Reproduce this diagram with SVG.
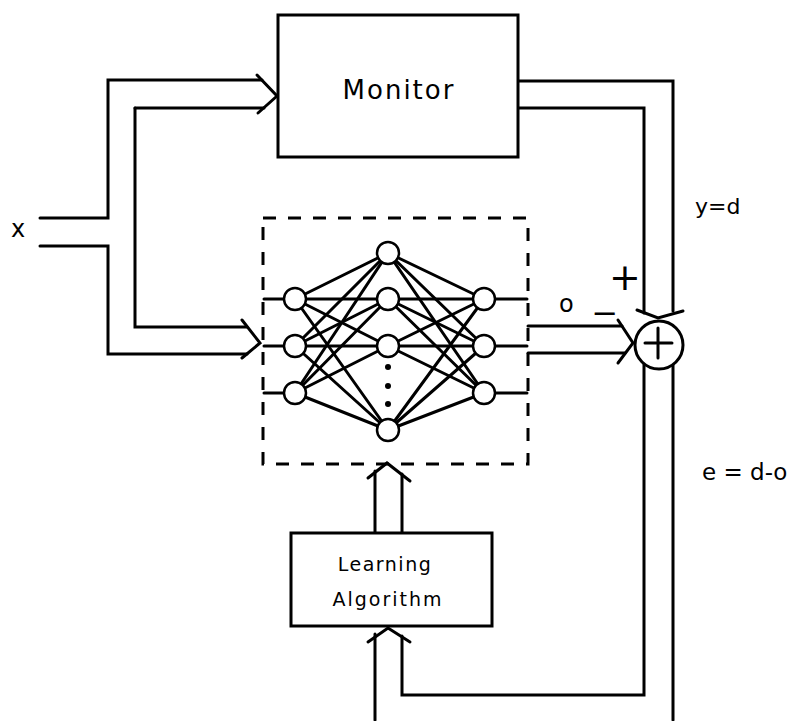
<svg xmlns="http://www.w3.org/2000/svg" width="796" height="721" viewBox="0 0 796 721">
  <style>
    .ln { fill: none; stroke: #000; stroke-width: 3; stroke-linecap: round; stroke-linejoin: miter; }
    .box { fill: #fff; stroke: #000; stroke-width: 3; }
    .dash { fill: none; stroke: #000; stroke-width: 3; stroke-dasharray: 13 12; }
    .syn { stroke: #000; stroke-width: 3; stroke-linecap: round; }
    .unit { fill: #fff; stroke: #000; stroke-width: 2.5; }
    .lbl { font-family: "DejaVu Sans", "Liberation Sans", sans-serif; fill: #000; }
  </style>

  <!-- signal paths (drawn as double-line "wide" arrows) -->
  <g id="connectors">
    <!-- x splits: upper branch to Monitor -->
    <polyline class="ln" points="40,218 108,218 108,80 262,80"/>
    <polyline class="ln" points="40,246 108,246 108,354 247,354"/>
    <polyline class="ln" points="135,108 264,108"/>
    <polyline class="ln" points="135,108 135,327 247,327"/>
    <!-- arrowhead into Monitor -->
    <polyline class="ln" points="257,75 277,96 258,113"/>
    <!-- arrowhead into network -->
    <polyline class="ln" points="242,320 260,343 242,358"/>

    <!-- network output o to summing junction -->
    <polyline class="ln" points="528,326 622,326"/>
    <polyline class="ln" points="528,353 625,353"/>
    <polyline class="ln" points="618,320 633,343 618,363"/>

    <!-- Monitor output y=d down to summing junction -->
    <polyline class="ln" points="518,81 673,81 673,311"/>
    <polyline class="ln" points="518,108 644,108 644,313"/>
    <polyline class="ln" points="637,310 658,318 683,311"/>

    <!-- error e = d-o back to Learning Algorithm -->
    <polyline class="ln" points="644,364 644,695 402,695 402,636"/>
    <polyline class="ln" points="673,365 673,720"/>
    <polyline class="ln" points="375,720 375,634"/>
    <polyline class="ln" points="368,642 388,628 410,642"/>

    <!-- Learning Algorithm to network weights -->
    <polyline class="ln" points="375,533 375,471"/>
    <polyline class="ln" points="402,533 402,474"/>
    <polyline class="ln" points="368,478 387,463 410,481"/>
  </g>

  <!-- Monitor block -->
  <g id="monitor">
    <rect class="box" x="278" y="15" width="240" height="142"/>
    <text class="lbl" x="399" y="99" font-size="26" letter-spacing="2" text-anchor="middle">Monitor</text>
  </g>

  <!-- Neural network: three-layer, fully connected -->
  <g id="network">
    <rect class="dash" x="263" y="218" width="265" height="246"/>
    <!-- input and output stubs -->
    <g>
      <line class="syn" x1="264" y1="299" x2="290" y2="299"/>
      <line class="syn" x1="264" y1="346" x2="290" y2="346"/>
      <line class="syn" x1="264" y1="393" x2="290" y2="393"/>
      <line class="syn" x1="490" y1="299" x2="527" y2="299"/>
      <line class="syn" x1="490" y1="346" x2="527" y2="346"/>
      <line class="syn" x1="490" y1="393" x2="527" y2="393"/>
    </g>
    <!-- input to hidden weights -->
    <g>
      <line class="syn" x1="295" y1="299" x2="388" y2="253"/>
      <line class="syn" x1="295" y1="299" x2="388" y2="299"/>
      <line class="syn" x1="295" y1="299" x2="388" y2="346"/>
      <line class="syn" x1="295" y1="299" x2="388" y2="430"/>
      <line class="syn" x1="295" y1="346" x2="388" y2="253"/>
      <line class="syn" x1="295" y1="346" x2="388" y2="299"/>
      <line class="syn" x1="295" y1="346" x2="388" y2="346"/>
      <line class="syn" x1="295" y1="346" x2="388" y2="430"/>
      <line class="syn" x1="295" y1="393" x2="388" y2="253"/>
      <line class="syn" x1="295" y1="393" x2="388" y2="299"/>
      <line class="syn" x1="295" y1="393" x2="388" y2="346"/>
      <line class="syn" x1="295" y1="393" x2="388" y2="430"/>
    </g>
    <!-- hidden to output weights -->
    <g>
      <line class="syn" x1="388" y1="253" x2="484" y2="299"/>
      <line class="syn" x1="388" y1="253" x2="484" y2="346"/>
      <line class="syn" x1="388" y1="253" x2="484" y2="393"/>
      <line class="syn" x1="388" y1="299" x2="484" y2="299"/>
      <line class="syn" x1="388" y1="299" x2="484" y2="346"/>
      <line class="syn" x1="388" y1="299" x2="484" y2="393"/>
      <line class="syn" x1="388" y1="346" x2="484" y2="299"/>
      <line class="syn" x1="388" y1="346" x2="484" y2="346"/>
      <line class="syn" x1="388" y1="346" x2="484" y2="393"/>
      <line class="syn" x1="388" y1="430" x2="484" y2="299"/>
      <line class="syn" x1="388" y1="430" x2="484" y2="346"/>
      <line class="syn" x1="388" y1="430" x2="484" y2="393"/>
    </g>
    <!-- units -->
    <g id="input-layer">
      <circle class="unit" cx="295" cy="299" r="11"/>
      <circle class="unit" cx="295" cy="346" r="11"/>
      <circle class="unit" cx="295" cy="393" r="11"/>
    </g>
    <g id="hidden-layer">
      <circle class="unit" cx="388" cy="253" r="11"/>
      <circle class="unit" cx="388" cy="299" r="11"/>
      <circle class="unit" cx="388" cy="346" r="11"/>
      <circle class="unit" cx="388" cy="430" r="11"/>
      <circle cx="388" cy="367" r="3"/>
      <circle cx="388" cy="386" r="3"/>
      <circle cx="388" cy="404" r="3"/>
    </g>
    <g id="output-layer">
      <circle class="unit" cx="484" cy="299" r="11"/>
      <circle class="unit" cx="484" cy="346" r="11"/>
      <circle class="unit" cx="484" cy="393" r="11"/>
    </g>
  </g>

  <!-- Summing junction -->
  <g id="summer">
    <circle class="box" cx="659" cy="345" r="24"/>
    <line class="syn" x1="658" y1="328" x2="658" y2="358"/>
    <line class="syn" x1="645" y1="343" x2="672" y2="343"/>
  </g>

  <!-- Learning Algorithm block -->
  <g id="learning">
    <rect class="box" x="291" y="533" width="201" height="93"/>
    <text class="lbl" x="385" y="571" font-size="19" letter-spacing="1.5" text-anchor="middle">Learning</text>
    <text class="lbl" x="388" y="606" font-size="19" letter-spacing="2" text-anchor="middle">Algorithm</text>
  </g>

  <!-- Signal labels -->
  <g id="labels">
    <text class="lbl" x="11" y="237" font-size="24">x</text>
    <text class="lbl" x="695" y="214" font-size="22">y=d</text>
    <text class="lbl" x="559" y="312" font-size="24">o</text>
    <text class="lbl" x="625" y="290" font-size="38" text-anchor="middle">+</text>
    <text class="lbl" x="605" y="324" font-size="32" text-anchor="middle">−</text>
    <text class="lbl" x="702" y="480" font-size="23">e = d-o</text>
  </g>
</svg>
